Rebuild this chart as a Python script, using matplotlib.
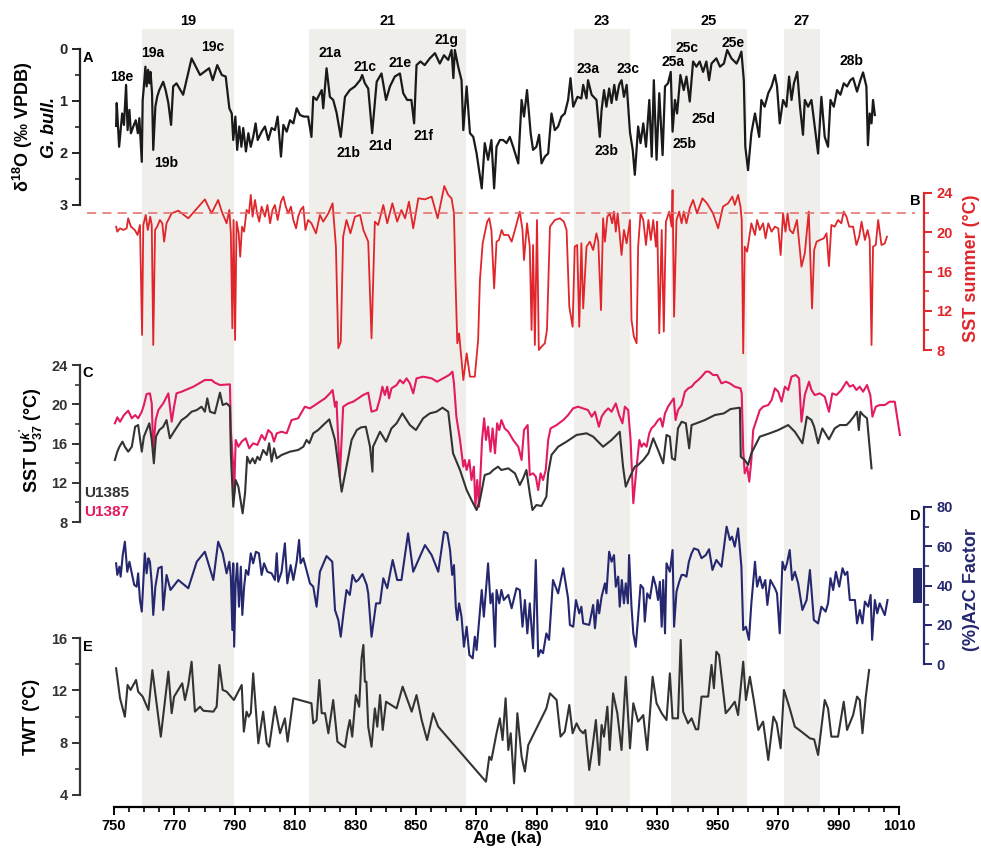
import numpy as np
import matplotlib
matplotlib.use("Agg")
import matplotlib.pyplot as plt
from matplotlib.patches import Rectangle
from matplotlib.ticker import MultipleLocator

plt.rcParams["font.family"] = ["Liberation Sans", "DejaVu Sans"]
plt.rcParams["font.weight"] = "bold"
plt.rcParams["mathtext.fontset"] = "custom"
plt.rcParams["mathtext.rm"] = "Liberation Sans:bold"
plt.rcParams["mathtext.it"] = "Liberation Sans:italic:bold"
plt.rcParams["mathtext.bf"] = "Liberation Sans:bold"

# ---- data (age ka, value) ----
d18o = [(750.7,1.48),(750.9,1.04),(751.7,1.88),(752.2,1.56),(752.7,1.24),(753.3,1.46),(754.0,0.69),(754.5,1.56),(755.1,1.17),(755.6,1.62),(756.4,1.49),(757.2,1.37),(757.9,1.62),(758.4,1.33),(759.2,2.17),(759.5,0.98),(759.9,0.72),(760.4,0.34),(760.8,0.72),(761.3,0.40),(761.7,0.66),(762.1,0.44),(762.6,0.85),(763.0,1.94),(763.7,1.11),(764.3,0.92),(765.0,0.79),(765.8,0.69),(766.3,0.63),(767.1,0.79),(768.0,1.04),(768.9,1.46),(769.6,0.72),(770.7,0.66),(772.9,0.88),(775.7,0.18),(778.5,0.50),(781.5,0.37),(782.7,0.60),(784.2,0.31),(785.7,0.50),(787.0,0.53),(788.2,1.14),(789.0,1.24),(789.5,1.75),(790.2,1.30),(790.8,1.94),(791.5,1.49),(792.2,1.88),(792.8,1.52),(793.7,1.97),(794.5,1.62),(795.3,1.88),(796.1,1.69),(796.9,1.43),(797.6,1.75),(798.9,1.59),(800.0,1.49),(801.1,1.75),(802.2,1.52),(803.3,1.56),(804.2,1.30),(805.3,2.07),(806.1,1.46),(807.2,1.59),(808.3,1.37),(809.4,1.43),(810.5,1.14),(811.6,1.27),(812.9,1.30),(814.3,1.30),(815.4,1.69),(816.0,0.92),(817.1,0.98),(818.8,0.79),(819.3,1.14),(820.4,0.37),(821.5,0.92),(822.6,0.98),(823.7,1.22),(825.1,1.69),(826.5,0.92),(828.1,0.79),(829.8,0.72),(831.5,0.60),(832.2,0.50),(833.1,0.66),(834.2,0.76),(835.5,1.62),(837.0,0.63),(838.6,0.47),(840.1,0.98),(841.4,0.72),(843.0,0.53),(844.7,0.47),(845.8,0.85),(847.1,0.98),(848.5,0.98),(849.4,1.43),(850.2,0.31),(851.5,0.24),(852.9,0.31),(854.6,0.18),(856.3,0.08),(857.9,0.28),(859.3,0.12),(860.7,0.21),(861.8,0.02),(862.4,0.56),(862.9,0.02),(864.0,0.34),(865.1,0.60),(865.7,1.56),(866.8,0.72),(867.9,1.62),(869.0,1.69),(870.1,2.01),(871.8,2.68),(872.8,1.81),(873.9,2.13),(875.0,1.75),(875.9,2.68),(876.7,1.88),(877.8,1.75),(878.9,1.75),(880.0,1.81),(881.1,1.69),(882.2,1.88),(883.9,2.20),(885.0,0.98),(885.8,1.30),(886.8,0.79),(888.0,1.62),(888.8,1.94),(889.9,1.88),(890.8,1.65),(891.6,2.20),(892.7,2.07),(893.8,2.01),(894.9,1.24),(896.0,1.56),(897.1,1.49),(898.2,1.30),(899.3,1.24),(900.4,0.98),(901.2,0.56),(902.1,1.11),(903.5,0.92),(904.8,0.95),(905.4,0.69),(906.5,0.95),(907.0,0.60),(908.2,0.88),(909.8,0.98),(910.9,1.69),(911.5,1.17),(912.3,0.79),(913.1,1.11),(914.0,0.76),(914.8,1.04),(915.7,0.69),(916.4,0.98),(917.3,0.69),(918.1,0.60),(918.9,0.92),(919.8,0.69),(920.9,1.60),(921.8,1.94),(922.5,2.42),(923.6,1.49),(924.4,1.81),(925.3,1.43),(926.2,1.88),(927.3,0.98),(928.1,2.07),(928.8,0.60),(929.7,2.13),(930.6,0.85),(931.7,2.04),(932.5,0.72),(933.5,0.66),(934.4,0.44),(935.0,1.59),(935.8,0.98),(936.5,1.24),(937.6,0.50),(938.7,0.79),(939.6,0.53),(940.7,1.01),(941.8,0.24),(942.9,0.34),(944.0,0.24),(945.1,0.44),(946.2,0.24),(947.1,0.60),(947.9,0.28),(949.5,0.18),(950.7,0.34),(952.0,0.28),(953.1,0.02),(954.5,0.18),(956.2,0.28),(957.0,0.18),(957.8,0.05),(958.6,0.60),(959.1,1.88),(960.0,2.33),(961.1,1.62),(962.3,1.24),(963.7,1.69),(964.4,0.98),(965.5,1.11),(966.7,0.85),(967.8,0.72),(968.9,0.50),(969.6,0.72),(970.5,1.43),(971.6,0.98),(972.7,1.11),(973.6,0.53),(974.4,0.98),(975.2,0.66),(976.3,0.44),(977.2,1.11),(978.2,1.65),(978.8,0.98),(979.9,1.11),(981.0,0.98),(982.1,1.49),(983.2,2.01),(984.3,0.92),(985.4,1.69),(986.5,1.88),(987.3,0.98),(988.4,1.11),(989.5,0.79),(990.6,0.88),(991.7,0.66),(992.8,0.72),(993.9,0.60),(994.8,0.56),(996.1,0.82),(997.2,0.60),(998.1,0.45),(999.2,0.72),(999.7,1.85),(1000.3,1.24),(1000.9,1.43),(1001.4,0.98),(1002.0,1.27)]

sst_summer = [(750.7,20.57),(751.1,20.06),(752.0,20.40),(753.1,20.23),(754.2,20.40),(754.7,21.42),(755.6,20.57),(756.9,20.23),(757.8,19.72),(758.6,20.74),(759.3,9.53),(759.7,20.74),(760.5,21.76),(761.2,20.23),(762.0,21.58),(762.5,20.74),(763.0,8.51),(763.6,20.23),(764.3,20.57),(765.2,21.25),(766.0,20.91),(766.6,19.04),(767.4,20.91),(769.1,21.93),(771.3,22.20),(774.6,21.42),(780.1,23.35),(782.3,21.93),(784.5,23.29),(785.7,22.10),(786.4,21.58),(787.3,20.91),(788.2,22.27),(788.7,19.89),(789.2,10.21),(789.6,21.25),(790.1,9.02),(790.6,21.08),(791.3,19.89),(791.8,17.51),(792.4,20.57),(793.1,20.06),(793.9,22.27),(794.7,21.93),(795.3,23.80),(795.9,21.59),(796.7,23.29),(797.4,21.93),(798.1,21.08),(798.9,22.61),(800.0,21.59),(800.8,22.78),(801.7,20.91),(802.5,22.27),(803.3,22.78),(804.2,21.25),(805.3,23.12),(806.1,23.63),(806.9,22.61),(807.7,21.93),(808.6,22.61),(809.4,21.25),(810.3,20.40),(811.0,21.59),(811.8,22.27),(812.7,22.61),(813.4,20.23),(814.3,21.25),(815.4,20.91),(816.9,19.89),(818.2,21.76),(819.3,21.08),(821.0,21.93),(822.4,22.95),(823.5,18.53),(824.3,8.17),(825.1,8.85),(825.9,19.55),(827.0,21.25),(828.3,19.89),(829.8,21.59),(831.5,21.76),(832.6,20.23),(834.2,19.04),(835.3,9.19),(836.4,21.08),(837.5,20.74),(839.2,22.78),(840.5,20.91),(842.2,22.95),(843.8,21.08),(845.2,22.27),(846.4,21.42),(847.7,23.12),(849.1,20.40),(850.8,23.46),(853.0,23.35),(855.2,23.63),(857.2,21.42),(859.4,24.71),(860.7,23.80),(861.8,23.46),(862.6,21.93),(863.1,15.13),(863.7,8.68),(864.3,9.70),(865.7,4.94),(866.8,7.66),(867.9,5.28),(869.5,5.28),(870.6,9.00),(871.2,15.13),(872.1,18.87),(872.8,19.89),(873.6,21.08),(874.3,21.42),(875.0,20.23),(875.9,14.28),(876.7,19.04),(877.5,19.21),(878.4,20.23),(879.1,19.72),(880.6,19.72),(881.7,19.04),(882.8,20.23),(884.4,22.10),(885.3,20.23),(885.8,17.17),(886.8,20.91),(887.7,18.53),(888.3,10.04),(888.8,18.70),(889.4,8.51),(890.1,21.25),(890.7,8.00),(891.6,8.34),(892.7,8.68),(893.4,10.04),(894.4,20.57),(896.0,21.25),(897.7,21.42),(899.0,21.08),(899.9,20.23),(900.8,12.41),(901.9,10.37),(902.6,18.53),(903.4,18.70),(904.1,10.37),(904.8,18.87),(905.4,12.24),(906.5,18.53),(907.6,19.04),(908.7,18.19),(909.8,19.89),(910.4,19.04),(911.3,12.07),(912.0,21.42),(912.6,19.04),(913.4,21.59),(914.2,21.93),(915.0,20.91),(915.6,22.10),(916.2,20.06),(916.8,21.93),(917.5,19.72),(918.1,17.68),(918.9,20.23),(919.8,18.87),(920.9,21.25),(921.4,11.06),(922.2,9.36),(923.1,8.68),(923.6,18.53),(924.4,21.93),(925.3,21.25),(926.2,18.70),(927.0,21.25),(927.8,19.21),(928.6,21.25),(929.5,18.53),(929.9,21.08),(930.6,9.70),(931.4,20.23),(932.1,9.87),(932.8,21.08),(933.9,22.10),(934.7,20.57),(935.0,24.30),(935.5,11.40),(936.3,21.25),(937.2,22.10),(938.0,20.91),(938.7,22.10),(939.6,20.91),(940.7,22.44),(941.8,23.29),(943.1,21.93),(944.9,23.46),(946.4,22.95),(948.4,21.93),(950.1,20.40),(951.7,22.61),(953.4,22.95),(954.8,23.63),(955.6,22.78),(956.7,23.80),(957.5,22.61),(957.9,21.25),(958.4,7.66),(958.9,18.53),(959.7,18.02),(961.1,20.91),(962.3,19.72),(963.0,21.25),(963.9,20.23),(965.0,20.91),(965.8,19.38),(966.7,20.91),(967.8,20.06),(968.9,20.57),(970.0,20.40),(970.8,17.68),(971.6,21.93),(972.4,20.06),(973.1,21.93),(973.8,20.23),(974.9,19.89),(976.2,21.25),(977.7,16.49),(978.8,17.85),(980.1,22.10),(981.2,12.24),(981.9,18.19),(982.7,19.04),(983.8,19.21),(985.1,19.38),(986.0,19.89),(986.8,16.56),(987.6,20.74),(988.7,20.57),(989.8,21.25),(990.9,20.91),(991.7,22.10),(992.6,21.59),(993.5,20.57),(994.8,20.57),(995.9,18.70),(996.8,19.55),(997.6,21.08),(998.7,19.21),(999.6,20.23),(1000.3,19.21),(1000.9,8.51),(1001.4,18.53),(1002.3,18.70),(1003.1,21.25),(1004.2,18.70),(1005.3,18.87),(1006.0,19.55)]

sst_u1387 = [(750.3,18.06),(751.1,18.67),(752.0,18.22),(753.3,18.90),(754.7,19.34),(755.9,18.57),(757.0,18.90),(758.0,18.57),(759.2,19.24),(759.9,19.92),(760.8,21.04),(761.9,21.11),(762.5,20.09),(763.0,15.34),(763.8,18.39),(764.7,19.41),(766.3,20.09),(768.0,21.11),(769.1,18.22),(769.9,19.75),(770.7,21.11),(772.4,21.28),(776.3,21.79),(780.1,22.47),(782.3,22.47),(783.4,22.20),(785.1,21.96),(788.4,22.03),(788.7,17.37),(789.5,13.64),(789.8,10.92),(790.3,16.36),(791.2,15.67),(792.3,16.19),(793.6,16.53),(794.8,15.51),(796.1,16.02),(797.5,15.85),(798.9,16.87),(800.0,16.36),(801.1,17.37),(802.2,17.04),(803.0,16.19),(803.9,17.04),(805.5,17.20),(807.2,17.04),(808.8,18.39),(811.0,18.57),(813.2,19.75),(814.9,19.58),(816.6,19.92),(818.2,20.26),(819.9,20.60),(821.5,21.11),(822.4,21.45),(823.2,19.75),(823.7,20.26),(824.8,12.62),(825.9,19.75),(827.6,20.09),(829.2,20.26),(830.9,20.60),(832.5,20.94),(834.2,21.18),(835.3,19.24),(837.0,19.41),(838.1,20.60),(838.9,21.79),(839.7,20.94),(840.5,21.79),(841.1,20.60),(841.9,21.62),(843.6,21.96),(844.7,22.47),(845.8,22.13),(846.9,22.64),(848.0,22.13),(849.1,21.11),(850.2,22.64),(852.4,22.81),(855.2,22.64),(857.0,22.30),(859.0,22.64),(861.0,22.98),(862.1,23.32),(862.6,22.13),(863.4,18.73),(864.6,16.36),(865.7,13.64),(866.2,14.32),(866.8,13.30),(867.7,14.32),(868.4,12.28),(869.2,13.64),(869.7,9.56),(870.3,12.28),(870.9,9.56),(871.9,16.36),(872.6,18.57),(873.2,16.36),(873.9,17.71),(874.7,15.17),(875.4,17.54),(876.2,15.00),(876.9,18.06),(877.6,17.37),(878.3,18.39),(879.4,17.54),(880.6,17.20),(882.2,16.36),(883.9,15.67),(885.0,14.32),(885.8,17.37),(887.0,17.88),(887.7,12.79),(888.8,12.96),(889.7,12.62),(890.5,11.26),(891.3,12.96),(892.1,12.28),(893.0,13.30),(893.8,16.36),(894.6,17.54),(896.6,17.88),(898.8,18.39),(900.4,18.90),(902.1,19.59),(903.7,19.75),(905.4,19.58),(907.0,19.41),(908.2,18.73),(909.3,19.24),(910.6,17.71),(911.5,18.73),(912.6,19.24),(913.7,19.58),(914.8,19.24),(916.2,20.09),(917.3,18.90),(918.4,18.06),(919.2,19.75),(920.3,19.41),(921.1,16.36),(922.0,9.91),(923.1,13.64),(924.0,16.36),(924.7,15.67),(925.5,16.02),(926.4,15.67),(927.3,17.04),(928.0,17.54),(929.1,17.88),(930.2,18.39),(931.0,18.57),(931.7,17.71),(932.5,19.07),(933.5,19.75),(934.6,20.26),(935.4,20.60),(936.0,18.39),(936.8,19.41),(938.0,19.92),(939.1,21.28),(940.2,21.62),(941.3,21.79),(942.4,22.20),(943.5,22.47),(944.6,22.81),(946.0,23.32),(947.1,23.32),(948.4,22.98),(949.8,22.98),(951.2,22.13),(952.6,22.30),(954.0,22.13),(955.6,21.79),(957.5,21.62),(957.9,21.11),(958.4,15.34),(958.9,12.96),(959.7,13.64),(960.4,12.11),(961.1,14.32),(961.7,17.37),(962.8,18.39),(963.9,19.41),(965.0,19.75),(966.7,19.92),(967.8,20.43),(968.9,21.62),(970.0,21.28),(971.1,20.26),(972.2,21.79),(973.3,21.45),(974.4,22.81),(975.8,22.98),(976.9,22.64),(977.7,18.22),(978.8,20.94),(980.2,22.30),(981.0,21.45),(982.1,20.94),(983.8,21.11),(985.4,20.77),(986.8,19.24),(987.9,21.11),(989.3,20.94),(990.9,21.45),(992.6,22.30),(993.7,21.79),(994.8,21.96),(995.9,21.45),(997.0,21.79),(998.1,21.28),(999.4,21.96),(1000.5,20.94),(1001.2,18.73),(1002.3,19.75),(1003.6,19.92),(1005.3,19.92),(1006.9,20.26),(1008.6,20.26),(1010.3,16.87)]

sst_u1385 = [(750.3,14.32),(751.1,15.17),(751.8,15.67),(752.8,16.19),(753.6,15.67),(754.7,15.17),(755.9,15.67),(757.0,17.71),(758.0,17.88),(759.2,15.17),(759.9,16.70),(760.8,17.37),(761.7,18.06),(762.5,16.36),(763.2,13.98),(763.9,16.70),(765.0,17.37),(766.3,17.71),(767.4,18.39),(768.5,16.53),(770.2,17.37),(772.4,18.39),(774.0,18.73),(775.7,19.24),(777.4,19.41),(779.0,19.75),(780.1,19.24),(780.9,20.60),(781.8,19.24),(783.4,19.07),(785.1,21.18),(786.0,19.92),(787.3,20.09),(788.4,19.75),(788.7,15.00),(789.5,9.56),(790.3,12.28),(791.2,11.60),(791.9,10.24),(792.6,8.88),(793.4,10.92),(794.1,14.65),(795.0,13.98),(795.9,14.49),(796.7,13.98),(797.5,14.65),(798.3,14.32),(799.4,15.34),(800.6,14.83),(801.4,16.02),(802.2,14.15),(803.0,15.51),(803.9,14.49),(805.5,14.83),(808.3,15.17),(811.0,15.34),(812.7,15.67),(813.8,16.36),(814.7,16.02),(816.0,17.04),(817.6,17.37),(819.3,17.88),(821.3,18.46),(823.2,16.36),(825.4,11.09),(827.0,13.64),(828.7,16.36),(830.4,17.37),(831.8,17.64),(833.4,17.71),(834.8,15.67),(835.6,13.13),(835.8,15.67),(838.1,17.20),(840.1,16.19),(841.9,17.54),(843.6,18.06),(845.5,19.07),(848.0,17.88),(850.0,17.37),(852.4,18.57),(854.6,19.07),(856.8,19.24),(858.8,19.65),(860.7,19.24),(862.3,15.00),(864.6,13.30),(866.8,11.26),(868.4,10.24),(870.1,9.22),(871.2,10.24),(872.8,12.79),(874.5,12.96),(875.6,13.30),(877.2,13.64),(878.3,13.30),(880.6,13.47),(882.8,12.96),(884.4,11.77),(885.5,12.45),(886.6,13.30),(887.7,10.92),(888.6,9.22),(889.9,9.73),(891.6,9.63),(893.2,10.58),(893.8,12.96),(894.9,14.83),(897.1,15.67),(899.9,16.19),(903.2,16.87),(906.5,17.04),(908.7,16.70),(912.0,15.67),(914.8,16.36),(917.5,17.20),(918.6,13.64),(919.5,11.60),(920.9,12.62),(922.5,13.64),(923.6,13.81),(925.3,14.32),(927.0,15.00),(928.6,16.53),(930.2,15.34),(931.9,13.98),(933.0,16.87),(934.1,16.70),(934.8,14.49),(935.8,14.32),(936.8,17.54),(938.0,18.22),(939.4,18.06),(940.5,15.51),(941.3,17.88),(942.9,18.06),(945.7,18.39),(949.0,18.90),(952.0,19.07),(954.2,19.51),(957.3,19.65),(957.6,14.65),(958.9,14.32),(960.0,13.81),(961.1,15.00),(963.9,16.70),(967.2,17.04),(970.0,17.37),(973.3,17.88),(975.5,17.20),(978.0,16.02),(979.5,18.73),(981.0,18.39),(981.9,17.71),(983.2,16.02),(984.6,17.54),(986.8,16.42),(988.7,17.54),(990.4,17.88),(992.6,17.88),(993.7,18.22),(995.0,18.73),(996.1,19.24),(996.7,17.37),(997.2,19.24),(998.1,18.90),(999.4,18.57),(1000.9,13.47)]

azc = [(750.7,51.3),(751.1,45.4),(751.8,49.6),(752.2,44.5),(752.9,55.5),(753.6,62.3),(754.4,47.0),(755.1,52.1),(755.9,46.2),(756.7,40.3),(757.5,39.4),(758.0,46.2),(758.6,32.6),(759.2,26.7),(759.7,41.1),(760.2,56.4),(760.8,46.2),(761.4,53.9),(761.9,52.1),(762.5,41.1),(763.0,25.0),(763.7,39.4),(764.7,48.8),(765.8,49.6),(766.3,27.5),(767.4,45.4),(768.7,37.7),(771.3,42.8),(774.6,38.6),(777.4,52.1),(780.1,57.2),(782.9,42.8),(784.5,62.3),(786.0,56.4),(787.3,46.2),(788.2,52.1),(788.7,44.5),(789.2,17.3),(789.5,51.3),(789.8,8.8),(790.3,41.1),(790.8,51.3),(791.4,29.2),(792.0,49.6),(792.5,25.0),(793.1,39.4),(793.7,47.9),(794.5,45.4),(795.3,56.4),(796.1,51.3),(797.0,57.2),(798.0,56.4),(798.9,45.4),(799.7,51.3),(800.8,47.0),(802.2,46.2),(803.3,42.8),(803.9,56.4),(804.4,41.9),(805.5,47.0),(806.6,61.5),(807.4,41.1),(808.5,50.4),(809.4,42.8),(810.5,52.1),(811.3,63.2),(811.8,51.3),(812.7,53.9),(813.6,48.8),(814.9,41.1),(816.0,39.4),(817.1,29.2),(818.2,47.0),(820.4,55.0),(822.3,52.1),(823.2,27.5),(824.3,22.4),(825.1,13.9),(826.0,25.8),(827.0,37.7),(828.1,35.2),(829.0,45.4),(830.1,41.9),(830.9,42.8),(832.3,45.9),(833.7,40.3),(834.2,36.0),(835.3,13.9),(836.8,30.9),(838.1,30.9),(839.2,43.7),(840.5,38.6),(842.3,53.0),(843.8,42.8),(845.2,42.8),(847.4,66.6),(849.1,47.0),(853.0,60.6),(855.2,55.5),(857.4,47.0),(859.3,67.4),(860.4,66.6),(861.3,58.1),(862.0,45.4),(862.6,50.4),(863.2,29.2),(863.7,22.4),(864.3,30.9),(865.1,24.1),(865.9,8.8),(866.8,19.0),(867.7,4.6),(868.8,2.9),(869.5,13.9),(870.1,7.1),(871.8,37.7),(872.5,24.1),(873.9,51.3),(874.7,30.9),(875.4,36.0),(876.2,8.8),(876.7,37.7),(877.6,30.9),(878.3,37.7),(879.1,32.6),(880.6,35.2),(881.7,28.4),(883.3,38.6),(884.4,37.7),(885.3,19.0),(886.1,32.6),(886.9,15.6),(887.7,30.9),(888.8,8.0),(889.7,53.0),(890.5,3.8),(891.3,7.1),(892.1,5.5),(893.2,15.6),(894.1,12.3),(895.4,42.8),(897.1,36.0),(898.8,48.8),(900.4,33.4),(901.0,19.9),(902.1,19.0),(903.0,32.6),(904.1,25.8),(904.8,29.2),(905.4,20.7),(907.4,19.9),(908.7,30.1),(909.3,18.2),(910.2,32.6),(910.7,25.8),(911.5,34.3),(912.6,41.1),(913.1,36.0),(914.0,57.2),(914.8,52.1),(915.6,55.5),(916.2,39.4),(917.0,44.5),(917.5,29.2),(918.2,42.8),(918.9,30.9),(919.5,41.1),(920.2,30.9),(920.6,55.5),(921.4,29.2),(922.0,15.6),(922.8,8.8),(923.6,24.1),(924.4,40.3),(925.3,38.6),(925.8,21.6),(926.6,36.0),(927.5,33.4),(928.6,44.5),(929.5,39.4),(930.2,32.6),(930.8,41.9),(931.4,19.0),(931.9,42.8),(932.5,15.6),(933.0,51.3),(934.1,47.0),(935.0,58.1),(935.5,19.0),(936.3,36.9),(937.2,41.9),(938.0,45.4),(938.7,45.4),(939.6,44.5),(940.4,52.1),(941.3,56.4),(942.1,58.9),(943.5,58.1),(944.6,53.9),(946.0,55.5),(947.1,58.5),(948.2,47.9),(949.5,53.0),(951.2,49.6),(952.9,70.0),(954.0,63.2),(954.7,64.9),(955.6,59.8),(956.7,69.1),(957.8,49.6),(958.4,17.3),(959.3,19.0),(960.3,12.3),(961.1,30.9),(962.3,52.1),(963.0,39.4),(963.9,44.5),(964.8,38.6),(965.7,42.8),(966.4,30.1),(967.4,42.8),(968.9,38.6),(969.6,36.0),(970.5,15.6),(971.4,52.1),(972.2,47.9),(972.9,51.3),(973.8,58.1),(974.6,42.8),(975.5,47.0),(976.6,41.1),(978.0,27.5),(979.4,32.6),(980.5,47.9),(981.8,22.4),(983.2,20.7),(984.3,29.2),(985.7,26.7),(986.5,30.9),(987.3,43.7),(988.2,37.7),(989.1,47.0),(990.2,39.4),(991.3,48.8),(992.1,45.4),(992.9,47.0),(993.7,32.6),(995.4,32.6),(996.1,20.7),(997.0,27.5),(997.9,20.7),(998.7,31.8),(999.8,29.2),(1000.6,35.2),(1001.1,12.3),(1002.0,32.6),(1002.8,25.8),(1003.6,30.9),(1005.3,24.9),(1006.2,32.6)]

twt = [(750.7,13.68),(752.0,11.39),(753.6,9.98),(754.5,12.41),(755.5,12.03),(757.3,12.79),(758.0,11.90),(759.5,11.52),(761.4,10.50),(762.7,13.55),(764.1,11.01),(765.5,8.46),(766.9,11.26),(768.0,13.43),(769.1,10.25),(769.9,11.52),(772.6,12.54),(773.5,11.26),(774.6,12.41),(775.7,14.19),(776.8,10.37),(778.5,10.75),(779.6,10.44),(782.9,10.37),(784.0,10.75),(784.9,13.94),(786.0,12.03),(787.3,11.90),(789.7,11.26),(792.3,12.41),(793.0,8.84),(793.9,10.37),(794.6,9.98),(795.3,10.25),(796.1,13.30),(797.8,7.95),(799.4,10.37),(800.6,7.95),(801.4,7.69),(803.3,10.75),(805.0,8.72),(806.6,9.86),(807.5,8.08),(809.4,11.39),(815.4,11.01),(816.0,9.48),(817.1,9.73),(818.0,12.79),(818.8,10.25),(819.9,10.25),(821.0,8.72),(822.6,11.26),(824.0,8.08),(825.4,7.82),(826.5,7.65),(827.3,8.84),(828.1,9.73),(828.9,8.46),(830.1,11.64),(831.2,10.75),(832.0,14.45),(832.6,15.47),(833.1,12.66),(833.6,12.66),(834.2,9.22),(835.3,7.69),(836.4,10.62),(837.2,9.22),(838.1,11.64),(839.0,8.97),(840.1,11.13),(843.6,10.62),(845.6,12.28),(848.6,10.37),(850.2,11.64),(851.9,9.73),(853.7,8.20),(855.7,10.25),(857.4,9.22),(873.2,5.02),(874.3,6.93),(875.0,6.68),(876.7,8.72),(877.8,9.86),(878.7,8.20),(879.7,11.39),(880.6,7.44),(881.4,8.72),(882.5,4.89),(883.6,10.25),(885.0,6.93),(886.1,5.79),(887.2,7.82),(893.2,10.62),(894.4,11.77),(896.6,11.26),(897.9,8.46),(899.3,8.84),(900.8,10.88),(901.9,8.72),(903.2,9.48),(904.3,8.97),(905.4,8.72),(906.1,8.97),(907.4,5.91),(908.5,7.69),(909.6,9.73),(910.7,6.30),(911.5,9.35),(912.3,8.46),(913.4,10.75),(914.2,7.44),(915.3,11.77),(916.7,10.25),(918.1,7.44),(919.5,13.04),(920.9,7.57),(922.0,11.01),(923.6,9.61),(925.3,10.11),(926.6,7.44),(928.4,13.04),(929.7,11.01),(931.4,10.25),(933.0,9.73),(934.1,13.30),(935.0,9.86),(936.8,9.86),(937.7,15.85),(938.5,10.37),(940.1,9.48),(941.3,9.86),(942.7,9.02),(943.5,9.02),(944.6,11.52),(946.8,11.52),(947.9,13.94),(948.7,12.16),(949.5,14.95),(950.4,14.70),(952.6,10.25),(954.0,10.62),(955.6,11.13),(956.7,10.11),(958.4,14.19),(959.3,11.26),(960.6,13.04),(961.9,11.26),(963.4,8.97),(965.0,9.61),(966.7,6.68),(968.4,9.99),(969.5,9.48),(970.8,7.57),(971.9,12.03),(973.8,10.62),(975.5,9.22),(977.7,8.84),(980.5,8.33),(981.9,8.25),(983.2,7.06),(985.4,11.26),(986.5,10.62),(987.6,8.46),(989.8,8.46),(991.7,11.13),(992.8,8.97),(994.8,10.11),(996.1,11.52),(997.0,11.26),(997.9,8.72),(999.0,11.52),(1000.1,13.55)]

# marine isotope stages (interglacials)
mis_labels = ["19", "21", "23", "25", "27"]
mis_start = [759.3, 814.6, 902.3, 934.4, 971.9]
mis_end = [789.7, 866.6, 920.9, 959.6, 983.8]

substages = ["18e", "19a", "19b", "19c", "21a", "21b", "21c", "21d", "21e", "21f", "21g",
             "23a", "23b", "23c", "25a", "25b", "25c", "25d", "25e", "28b"]
substage_age = [752.6, 762.9, 767.2, 782.8, 821.5, 827.5, 833.1, 838.4, 844.7, 852.4, 860.0,
                907.0, 913.0, 920.3, 935.2, 938.8, 939.8, 945.1, 955.0, 994.1]
substage_val = [0.54, 0.08, 2.19, -0.04, 0.08, 2.0, 0.35, 1.87, 0.27, 1.67, -0.17,
                0.38, 1.96, 0.38, 0.25, 1.83, -0.02, 1.35, -0.12, 0.23]

age_ticks = list(range(750, 1011, 20))
sst_threshold = 22.0
azc_range = (31, 49)

RED = "#e0262b"
PINK = "#e31b62"
NAVY = "#25276f"
DARK = "#333333"
BAND = "#efeeea"

W, H = 981, 849
X0, X1 = 114, 899


def rect(y0, y1, x0=X0, x1=X1):
    return [x0 / W, 1 - y1 / H, (x1 - x0) / W, (y1 - y0) / H]


fig = plt.figure(figsize=(W / 100, H / 100), dpi=100)

# background axis: bands + age axis
base = fig.add_axes(rect(29, 807))
base.set_xlim(750, 1010)
base.set_ylim(0, 1)
for s, e, lab in zip(mis_start, mis_end, mis_labels):
    base.axvspan(s, e, color=BAND, lw=0, zorder=0)
    base.text((s + e) / 2, 1 + 8 / 778, lab, transform=base.get_xaxis_transform(),
              ha="center", va="center", fontsize=10.5, fontweight="bold")
for sp in ["top", "left", "right"]:
    base.spines[sp].set_visible(False)
base.spines["bottom"].set_linewidth(1.6)
base.set_yticks([])
base.set_xticks(age_ticks)
base.xaxis.set_minor_locator(MultipleLocator(5))
base.tick_params(axis="x", which="major", length=6, width=1.4, labelsize=10.5, pad=3)
base.tick_params(axis="x", which="minor", length=3.5, width=1.2)
for t in base.get_xticklabels():
    t.set_fontweight("bold")
fig.text(507 / W, 1 - 839 / H, "Age (ka)", ha="center", va="center",
         fontsize=12.5, fontweight="bold")


def panel(y_top, y_bot, lo, hi, side, color, major, minor, invert=False):
    ax = fig.add_axes(rect(y_top, y_bot))
    ax.patch.set_visible(False)
    ax.set_xlim(750, 1010)
    if invert:
        ax.set_ylim(hi, lo)
    else:
        ax.set_ylim(lo, hi)
    for sp in ["top", "bottom", "left", "right"]:
        ax.spines[sp].set_visible(False)
    ax.set_xticks([])
    sp = ax.spines[side]
    sp.set_visible(True)
    sp.set_color(color)
    sp.set_linewidth(1.6)
    if side == "left":
        sp.set_position(("outward", 34 * 0.72))
    else:
        sp.set_position(("outward", 25 * 0.72))
        ax.yaxis.tick_right()
    ax.yaxis.set_major_locator(MultipleLocator(major))
    ax.yaxis.set_minor_locator(MultipleLocator(minor))
    ax.tick_params(axis="y", which="major", length=6, width=1.4, colors=color,
                   labelsize=10.5, pad=3)
    ax.tick_params(axis="y", which="minor", length=3.5, width=1.2, colors=color)
    for t in ax.get_yticklabels():
        t.set_fontweight("bold")
    return ax


def xy(pairs):
    a = np.array(pairs)
    return a[:, 0], a[:, 1]


# A: d18O
ax_a = panel(49, 205, 0, 3, "left", "#222222", 1, 0.5, invert=True)
x, y = xy(d18o)
ax_a.plot(x, y, color="#1a1a1a", lw=1.6, clip_on=False)
for lab, a, v in zip(substages, substage_age, substage_val):
    ax_a.text(a, v, lab, ha="center", va="center", fontsize=10, fontweight="bold")

# B: SST summer
ax_b = panel(193, 350, 8, 24, "right", RED, 4, 2)
x, y = xy(sst_summer)
ax_b.plot(x, y, color=RED, lw=1.3, clip_on=False)
ax_b.axhline(sst_threshold, xmin=(87 - X0) / (X1 - X0), xmax=(915 - X0) / (X1 - X0),
             color="#e36a6a", lw=1.1, ls=(0, (6, 4)), clip_on=False)

# C: Uk'37 SST
ax_c = panel(365, 522, 8, 24, "left", DARK, 4, 2)
x, y = xy(sst_u1387)
ax_c.plot(x, y, color=PINK, lw=1.5, clip_on=False)
x, y = xy(sst_u1385)
ax_c.plot(x, y, color=DARK, lw=1.5, clip_on=False)

# D: AzC factor
ax_d = panel(507, 664, 0, 80, "right", NAVY, 20, 10)
x, y = xy(azc)
ax_d.plot(x, y, color=NAVY, lw=1.5, clip_on=False)
bar_x = 750 + (913 - X0) / ((X1 - X0) / 260)
ax_d.add_patch(Rectangle((bar_x, azc_range[0]), 2.9, azc_range[1] - azc_range[0],
                         color=NAVY, lw=0, clip_on=False))

# E: TWT
ax_e = panel(638, 795, 4, 16, "left", DARK, 4, 2)
x, y = xy(twt)
ax_e.plot(x, y, color=DARK, lw=1.5, clip_on=False)

# panel letters
for lab, px, py in [("A", 88, 58), ("B", 915, 201), ("C", 88, 373), ("D", 915, 516), ("E", 88, 647)]:
    fig.text(px / W, 1 - py / H, lab, ha="center", va="center", fontsize=10.5, fontweight="bold")

# axis titles
fig.text(23 / W, 1 - 127 / H, "δ$^{18}$O (‰ VPDB)", rotation=90, ha="center", va="center",
         fontsize=13, fontweight="bold")
fig.text(49 / W, 1 - 127 / H, "G. bull.", rotation=90, ha="center", va="center",
         fontsize=13, fontweight="bold", fontstyle="italic")
fig.text(972 / W, 1 - 268 / H, "SST summer (°C)", rotation=90, ha="center", va="center",
         fontsize=13, fontweight="bold", color=RED)
fig.text(31 / W, 1 - 440 / H, "SST U$^{k'}_{37}$ (°C)", rotation=90, ha="center", va="center",
         fontsize=13, fontweight="bold")
fig.text(972 / W, 1 - 590 / H, "(%)AzC Factor", rotation=90, ha="center", va="center",
         fontsize=13, fontweight="bold", color=NAVY)
fig.text(32 / W, 1 - 717 / H, "TWT (°C)", rotation=90, ha="center", va="center",
         fontsize=13, fontweight="bold")

fig.text(84 / W, 1 - 493 / H, "U1385", ha="left", va="center", fontsize=11,
         fontweight="bold", color=DARK)
fig.text(84 / W, 1 - 512 / H, "U1387", ha="left", va="center", fontsize=11,
         fontweight="bold", color=PINK)

fig.savefig("out.png", dpi=100)
